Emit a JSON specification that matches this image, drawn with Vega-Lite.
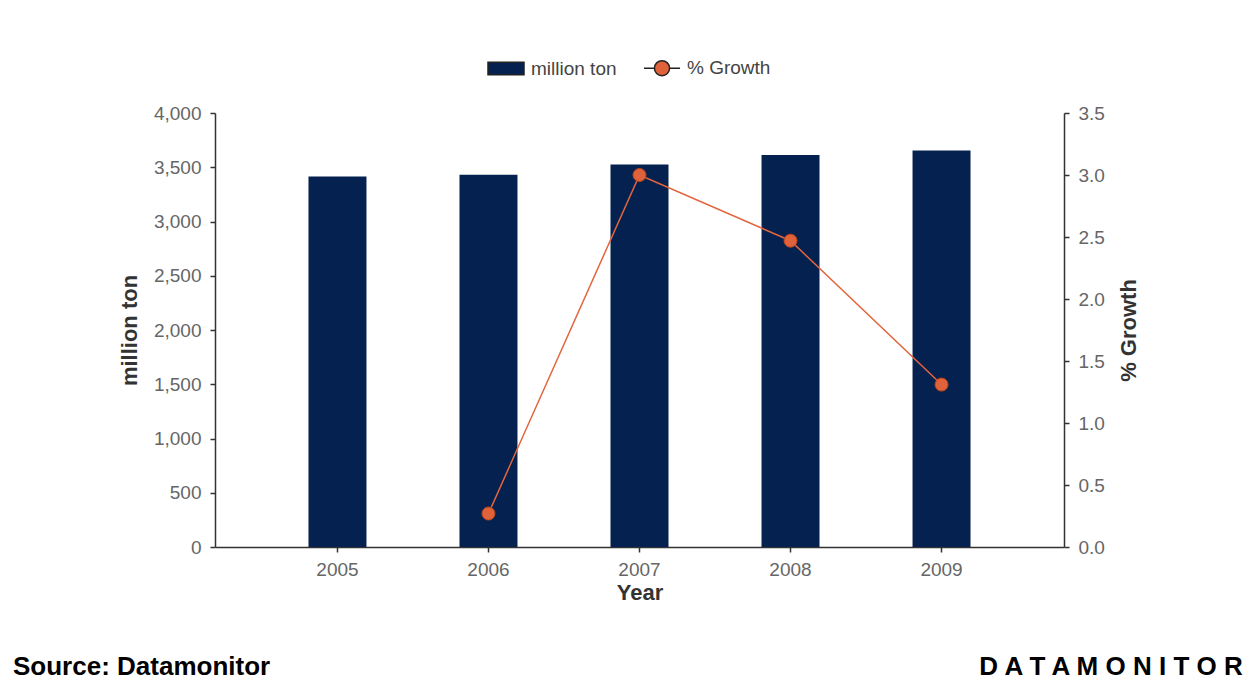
{
  "$schema": "https://vega.github.io/schema/vega-lite/v6.json",
  "width": 849,
  "height": 434,
  "autosize": {"type": "none"},
  "padding": {"left": 215, "top": 113, "right": 193, "bottom": 142},
  "background": "white",
  "title": {
    "text": "Source: Datamonitor\u2003\u2003\u2003\u2003\u2003\u2003\u2003\u2003\u2003\u2003\u2003\u2003\u2003\u2003\u2003\u2003\u2003\u2003\u2003\u2003\u2003\u2003\u2003\u2003\u2003\u2003\u2003\u00a0D A T A M O N I T O R",
    "orient": "bottom",
    "anchor": "start",
    "frame": "group",
    "dx": -202,
    "offset": 51,
    "font": "Liberation Sans",
    "fontSize": 26,
    "fontWeight": "bold",
    "color": "#000000"
  },
  "data": {
    "values": [
      {"year": "2005", "tons": 3415, "growth": null},
      {"year": "2006", "tons": 3430, "growth": 0.27},
      {"year": "2007", "tons": 3525, "growth": 3.0},
      {"year": "2008", "tons": 3612, "growth": 2.47},
      {"year": "2009", "tons": 3655, "growth": 1.31}
    ]
  },
  "encoding": {
    "x": {
      "field": "year",
      "type": "ordinal",
      "scale": {"paddingInner": 0.616, "paddingOuter": 0.619},
      "axis": {"title": "Year", "labelAngle": 0, "labelPadding": 8, "titlePadding": 3}
    }
  },
  "layer": [
    {
      "mark": {"type": "bar"},
      "encoding": {
        "y": {
          "field": "tons",
          "type": "quantitative",
          "scale": {"domain": [0, 4000], "nice": false},
          "axis": {
            "title": "million ton",
            "values": [0, 500, 1000, 1500, 2000, 2500, 3000, 3500, 4000],
            "format": ",.0f",
            "titlePadding": 12
          }
        },
        "fill": {
          "datum": "million ton",
          "type": "nominal",
          "scale": {"domain": ["million ton", "% Growth"], "range": ["#05214f", "#e0623a"]},
          "legend": {"title": null, "orient": "none", "legendX": 272, "legendY": -64, "direction": "horizontal"}
        }
      }
    },
    {
      "encoding": {
        "y": {
          "field": "growth",
          "type": "quantitative",
          "scale": {"domain": [0, 3.5], "nice": false},
          "axis": {
            "orient": "right",
            "title": "% Growth",
            "titleAngle": 270,
            "titleBaseline": "top",
            "values": [0, 0.5, 1, 1.5, 2, 2.5, 3, 3.5],
            "format": ".1f",
            "titlePadding": 14
          }
        }
      },
      "layer": [
        {"mark": {"type": "line", "color": "#e3653d", "strokeWidth": 1.5}},
        {
          "mark": {"type": "point", "shape": "circle", "filled": true, "size": 170, "stroke": "#b5441c", "strokeWidth": 1, "opacity": 1},
          "encoding": {
            "fill": {
              "datum": "% Growth",
              "type": "nominal",
              "legend": {"title": null, "orient": "none", "legendX": 272, "legendY": -64, "direction": "horizontal"}
            }
          }
        },
        {
          "data": {"values": []},
          "mark": {"type": "point", "filled": true, "opacity": 1},
          "encoding": {
            "shape": {
              "datum": "% Growth",
              "type": "nominal",
              "scale": {
                "domain": ["million ton", "% Growth"],
                "range": ["M-1,-0.35H1V0.35H-1Z", "M-1,0H-0.42M0.42,0H1M-0.42,0A0.42,0.42,0,1,1,0.42,0A0.42,0.42,0,1,1,-0.42,0Z"]
              },
              "legend": {"title": null, "orient": "none", "legendX": 272, "legendY": -64, "direction": "horizontal"}
            }
          }
        }
      ]
    }
  ],
  "resolve": {"scale": {"y": "independent"}},
  "config": {
    "view": {"stroke": null},
    "font": "Liberation Sans",
    "axis": {
      "grid": false,
      "domainColor": "#333333",
      "domainWidth": 1.5,
      "tickColor": "#333333",
      "tickSize": 5,
      "tickWidth": 1.5,
      "labelFont": "Liberation Sans",
      "labelFontSize": 19,
      "labelColor": "#666666",
      "labelPadding": 9,
      "titleFont": "Liberation Sans",
      "titleFontSize": 22,
      "titleFontWeight": "bold",
      "titleColor": "#333333"
    },
    "legend": {
      "labelFont": "Liberation Sans",
      "labelFontSize": 19,
      "labelColor": "#444444",
      "symbolSize": 1296,
      "symbolStrokeColor": "#222222",
      "symbolStrokeWidth": 1.5,
      "columnPadding": 24,
      "labelOffset": 6
    }
  }
}
